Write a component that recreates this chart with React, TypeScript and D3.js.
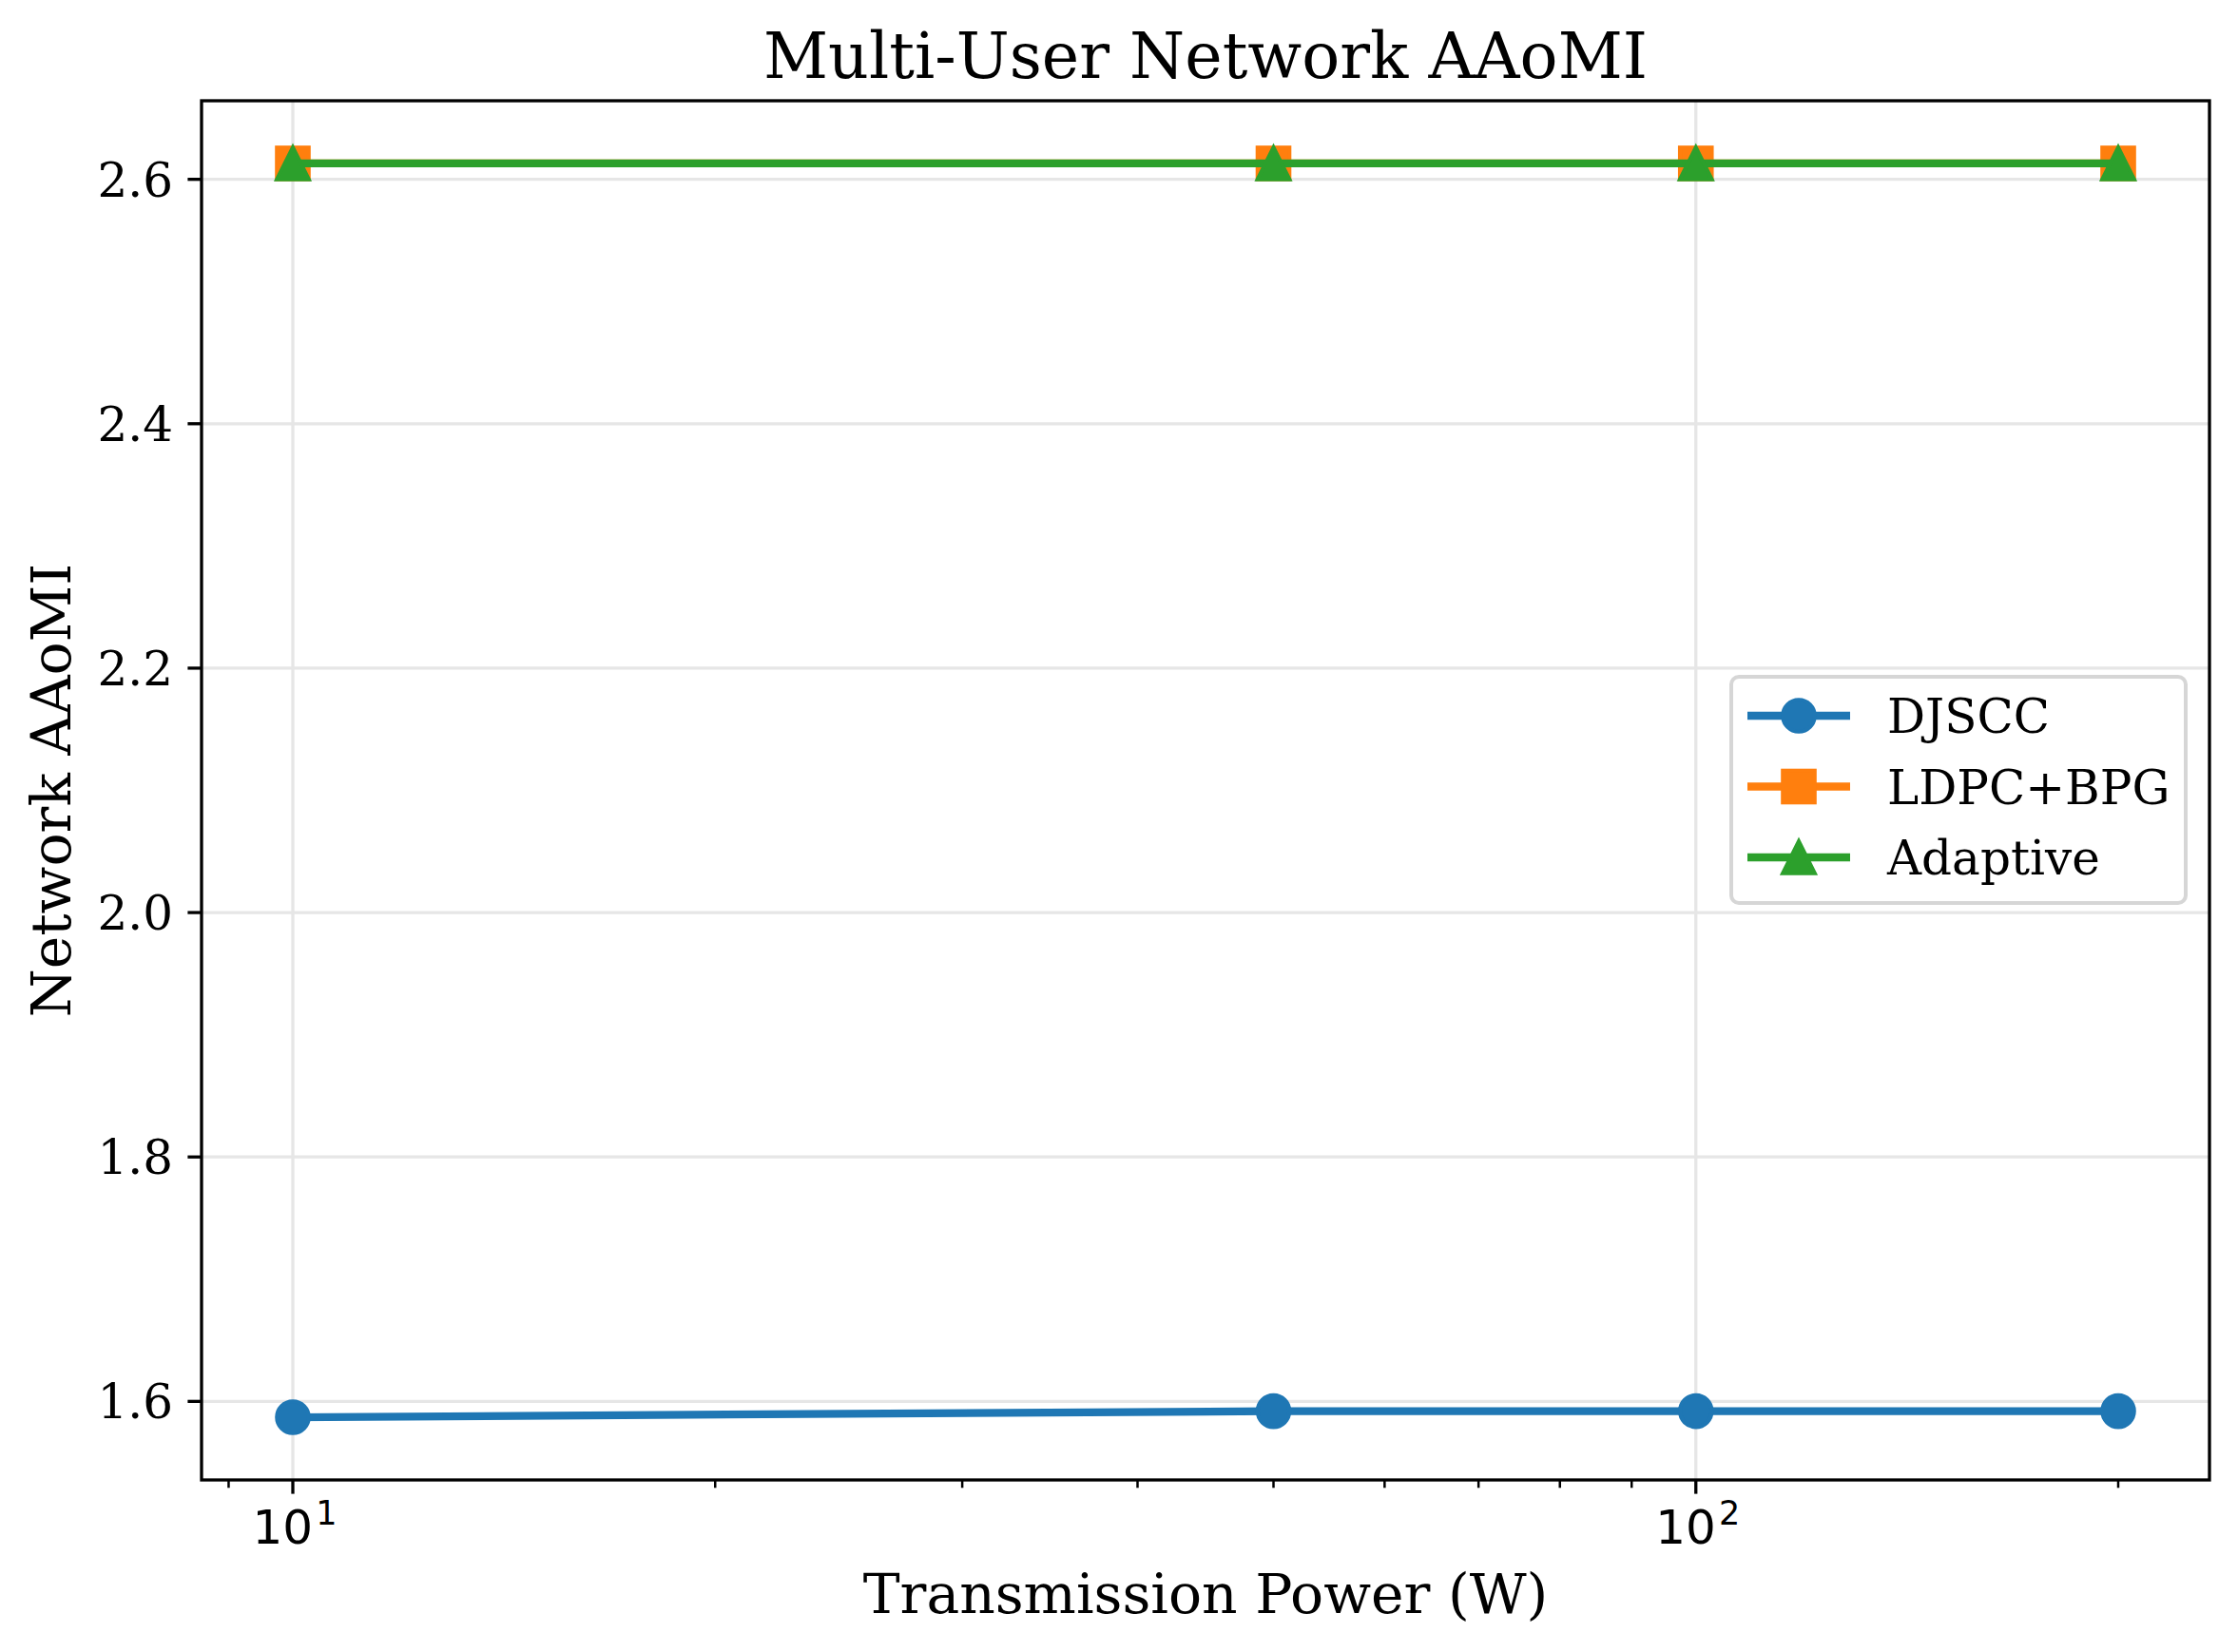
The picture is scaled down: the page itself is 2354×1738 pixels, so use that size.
import React, { useEffect, useRef } from 'react';
import * as d3 from 'd3';

// transmission power (W) and network AAoMI per scheme
const powers = [10, 50, 100, 200];
const djscc = [1.587, 1.592, 1.592, 1.592];
const ldpcBpg = [2.613, 2.613, 2.613, 2.613];
const adaptive = [2.613, 2.613, 2.613, 2.613];
const yTicks = [1.6, 1.8, 2.0, 2.2, 2.4, 2.6];
const xMajor = [10, 100];
const xMajorExp = ['1', '2'];

const colors = { blue: '#1f77b4', orange: '#ff7f0e', green: '#2ca02c' };
const series = [
  { name: 'DJSCC', values: djscc, color: colors.blue, marker: 'circle' },
  { name: 'LDPC+BPG', values: ldpcBpg, color: colors.orange, marker: 'square' },
  { name: 'Adaptive', values: adaptive, color: colors.green, marker: 'triangle' },
];

const W = 2354, H = 1738;
const serif = '"DejaVu Serif", serif';

export default function App() {
  const ref = useRef<SVGSVGElement>(null);

  useEffect(() => {
    if (!ref.current) return;
    const svg = d3.select(ref.current);
    svg.selectAll('*').remove();

    const L = 212, R = 2324, T = 106, B = 1557;

    const lx0 = Math.log10(d3.min(powers)!), lx1 = Math.log10(d3.max(powers)!);
    const xm = (lx1 - lx0) * 0.05;
    const x = d3.scaleLog().domain([10 ** (lx0 - xm), 10 ** (lx1 + xm)]).range([L, R]);
    const all = [...djscc, ...ldpcBpg, ...adaptive];
    const y0 = d3.min(all)!, y1 = d3.max(all)!;
    const ym = (y1 - y0) * 0.05;
    const y = d3.scaleLinear().domain([y0 - ym, y1 + ym]).range([B, T]);

    svg.append('rect').attr('width', W).attr('height', H).attr('fill', '#fff');

    // grid
    const grid = svg.append('g').attr('stroke', '#e6e6e6').attr('stroke-width', 3.3);
    xMajor.forEach(v => grid.append('line').attr('x1', x(v)).attr('x2', x(v)).attr('y1', T).attr('y2', B));
    yTicks.forEach(v => grid.append('line').attr('x1', L).attr('x2', R).attr('y1', y(v)).attr('y2', y(v)));

    // lines and markers
    series.forEach(s => {
      const pts = powers.map((p, i) => [x(p), y(s.values[i])] as [number, number]);
      svg.append('path').attr('d', d3.line()(pts)!).attr('fill', 'none')
        .attr('stroke', s.color).attr('stroke-width', 8.3).attr('stroke-linejoin', 'round').attr('stroke-linecap', 'square');
      pts.forEach(([px, py]) => drawMarker(svg, s.marker, px, py, s.color));
    });

    // spines
    svg.append('rect').attr('x', L).attr('y', T).attr('width', R - L).attr('height', B - T)
      .attr('fill', 'none').attr('stroke', '#000').attr('stroke-width', 3.3);

    // x ticks
    const minor = x.ticks().filter(v => !xMajor.includes(v));
    minor.forEach(v => svg.append('line').attr('x1', x(v)).attr('x2', x(v)).attr('y1', B).attr('y2', B + 8.3)
      .attr('stroke', '#000').attr('stroke-width', 2.5));
    xMajor.forEach((v, i) => {
      svg.append('line').attr('x1', x(v)).attr('x2', x(v)).attr('y1', B).attr('y2', B + 14.6)
        .attr('stroke', '#000').attr('stroke-width', 3.3);
      const t = svg.append('text').attr('x', x(v) + 2).attr('y', 1624).attr('text-anchor', 'middle')
        .attr('font-family', '"DejaVu Sans", sans-serif').attr('font-size', 50).attr('fill', '#000');
      t.append('tspan').text('10');
      t.append('tspan').attr('dy', -20).attr('dx', 3).attr('font-size', 35).text(xMajorExp[i]);
    });

    // y ticks
    yTicks.forEach(v => {
      svg.append('line').attr('x1', L - 14.6).attr('x2', L).attr('y1', y(v)).attr('y2', y(v))
        .attr('stroke', '#000').attr('stroke-width', 3.3);
      svg.append('text').attr('x', L - 30).attr('y', y(v) + 18).attr('text-anchor', 'end')
        .attr('font-family', serif).attr('font-size', 50).attr('fill', '#000').text(v.toFixed(1));
    });

    // labels
    svg.append('text').attr('x', (L + R) / 2).attr('y', 82).attr('text-anchor', 'middle')
      .attr('font-family', serif).attr('font-size', 66.5).attr('fill', '#000').text('Multi-User Network AAoMI');
    svg.append('text').attr('x', (L + R) / 2).attr('y', 1697).attr('text-anchor', 'middle')
      .attr('font-family', serif).attr('font-size', 58.3).attr('fill', '#000').text('Transmission Power (W)');
    svg.append('text').attr('transform', `translate(74,${(T + B) / 2}) rotate(-90)`).attr('text-anchor', 'middle')
      .attr('font-family', serif).attr('font-size', 58.3).attr('fill', '#000').text('Network AAoMI');

    // legend
    const lg = svg.append('g');
    lg.append('rect').attr('x', 1821).attr('y', 712).attr('width', 478).attr('height', 238).attr('rx', 8)
      .attr('fill', '#fff').attr('fill-opacity', 0.8).attr('stroke', '#d6d6d6').attr('stroke-width', 4);
    series.forEach((s, i) => {
      const cy = 753 + i * 74.5;
      lg.append('line').attr('x1', 1838).attr('x2', 1946).attr('y1', cy).attr('y2', cy)
        .attr('stroke', s.color).attr('stroke-width', 8.3);
      drawMarker(lg, s.marker, 1892, cy, s.color);
      lg.append('text').attr('x', 1985).attr('y', cy + 18).attr('font-family', serif).attr('font-size', 50)
        .attr('fill', '#000').text(s.name);
    });
  }, []);

  return (
    <svg ref={ref} width={W} height={H} style={{ position: 'absolute', left: 0, top: 0 }} />
  );
}

function drawMarker(g: any, kind: string, cx: number, cy: number, color: string) {
  const r = 16.7;
  if (kind === 'circle') {
    g.append('circle').attr('cx', cx).attr('cy', cy).attr('r', r).attr('fill', color)
      .attr('stroke', color).attr('stroke-width', 4.2);
  } else if (kind === 'square') {
    g.append('rect').attr('x', cx - r).attr('y', cy - r).attr('width', 2 * r).attr('height', 2 * r)
      .attr('fill', color).attr('stroke', color).attr('stroke-width', 4.2);
  } else {
    g.append('path').attr('d', `M${cx},${cy - r}L${cx + r},${cy + r}L${cx - r},${cy + r}Z`)
      .attr('fill', color).attr('stroke', color).attr('stroke-width', 4.2);
  }
}
